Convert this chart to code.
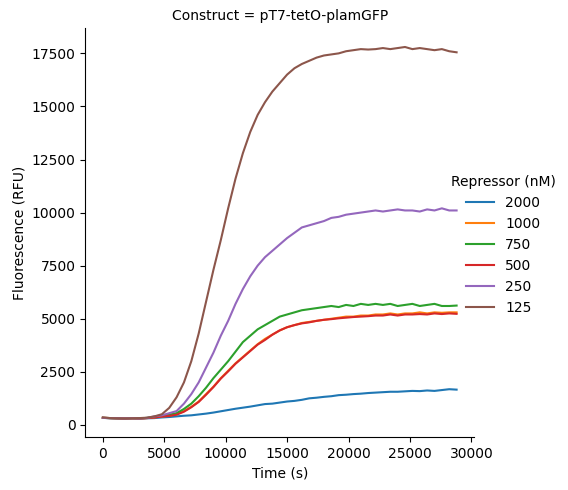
import numpy as np, pandas as pd, seaborn as sns, matplotlib
matplotlib.use("Agg")
import matplotlib.pyplot as plt

time = list(range(0, 28801, 600))
repressors = ["2000", "1000", "750", "500", "250", "125"]
r2000 = [330,310,300,300,310,300,310,320,350,370,400,430,450,490,530,580,640,700,760,810,860,920,980,1000,1050,1100,1130,1180,1250,1280,1320,1350,1400,1420,1450,1470,1500,1520,1540,1560,1560,1580,1600,1590,1620,1600,1640,1680,1660]
r1000 = [330,320,310,300,310,300,320,350,400,430,500,650,850,1100,1450,1800,2200,2550,2900,3200,3500,3800,4050,4250,4450,4600,4700,4800,4850,4900,4950,5000,5050,5100,5100,5150,5150,5200,5200,5250,5200,5250,5250,5300,5250,5300,5280,5300,5300]
r750 = [330,320,310,300,310,300,330,380,420,480,550,750,1000,1350,1750,2200,2600,3000,3450,3900,4200,4500,4700,4900,5100,5200,5300,5400,5450,5500,5550,5600,5550,5650,5600,5700,5650,5700,5650,5700,5600,5650,5700,5600,5650,5700,5600,5600,5620]
r500 = [330,320,310,300,310,300,320,350,390,420,480,620,830,1080,1420,1780,2180,2520,2880,3180,3480,3780,4000,4250,4450,4600,4700,4780,4830,4900,4950,4980,5020,5050,5080,5100,5120,5150,5150,5200,5150,5200,5200,5220,5200,5250,5220,5250,5230]
r250 = [330,320,310,300,310,300,330,400,450,550,650,1000,1450,2000,2700,3400,4200,4900,5700,6400,7000,7500,7900,8200,8500,8800,9050,9300,9400,9500,9600,9750,9800,9900,9950,10000,10050,10100,10050,10100,10150,10100,10100,10050,10150,10100,10200,10100,10100]
r125 = [350,320,310,300,310,320,340,400,500,800,1300,2000,3000,4300,5800,7300,8700,10200,11600,12800,13800,14600,15200,15700,16100,16500,16800,17000,17150,17300,17400,17450,17500,17600,17650,17700,17680,17700,17750,17700,17750,17800,17700,17750,17700,17650,17700,17600,17550]

series = [r2000, r1000, r750, r500, r250, r125]
rows = []
for rep, vals in zip(repressors, series):
    for t, v in zip(time, vals):
        rows.append({"Time (s)": t, "Fluorescence (RFU)": v, "Repressor (nM)": rep, "Construct": "pT7-tetO-plamGFP"})
df = pd.DataFrame(rows)

g = sns.relplot(data=df, x="Time (s)", y="Fluorescence (RFU)", hue="Repressor (nM)",
                hue_order=repressors, col="Construct", kind="line", height=4.6, aspect=1.0)
g.figure.set_size_inches(5.68, 4.9)
g.figure.subplots_adjust(left=0.15, right=0.835, bottom=0.108, top=0.942)
g.figure.savefig("out.png", dpi=100)
